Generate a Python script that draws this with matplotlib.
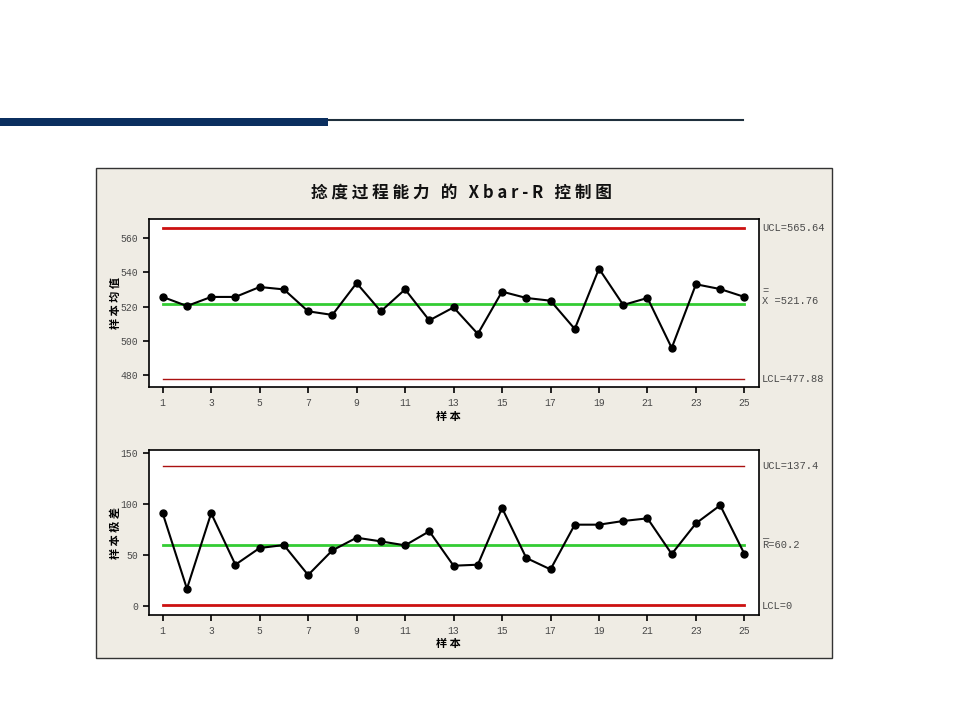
import numpy as np
import matplotlib
matplotlib.use("Agg")
from matplotlib import pyplot as plt
from matplotlib.patches import Rectangle
from matplotlib.lines import Line2D

# sample number and subgroup statistics
samples = np.arange(1, 26)
xbar = [525.6, 520.3, 525.6, 525.6, 531.4, 530.0, 517.2, 515.1, 533.7, 517.2,
        530.0, 511.9, 519.5, 504.0, 528.7, 525.0, 523.4, 506.9, 542.1, 520.9,
        525.0, 495.8, 533.0, 530.2, 525.6]
ranges = [91.1, 17.0, 91.1, 40.6, 57.0, 59.9, 30.5, 54.7, 67.1, 63.5,
          59.6, 73.4, 39.6, 40.6, 96.3, 47.2, 36.0, 79.9, 79.9, 83.5,
          86.1, 51.1, 81.2, 98.9, 51.1]

xbar_ucl, xbar_cl, xbar_lcl = 565.64, 521.76, 477.88
r_ucl, r_cl, r_lcl = 137.4, 60.2, 0

title = "捻 度 过 程 能 力   的   X b a r - R   控 制 图"
xlabel = "样 本"
ylabel_top = "样 本 均 值"
ylabel_bottom = "样 本 极 差"

cjk = ['Noto Sans CJK SC', 'DejaVu Sans']
mono = ['Liberation Mono', 'DejaVu Sans Mono']
txt_col = '#4a4a4a'

fig = plt.figure(figsize=(9.6, 7.2), dpi=100)

# header bars and grey panel (kept behind the axes)
fig.patches.append(Rectangle((0, 0.825), 0.3417, 0.0111, transform=fig.transFigure,
                             facecolor='#0b2f5f', edgecolor='none', zorder=-2))
fig.lines.append(Line2D([0.3417, 0.774], [0.8333, 0.8333], transform=fig.transFigure,
                        color='#1f2f3d', lw=1.5, zorder=-2))
fig.patches.append(Rectangle((0.1, 0.0861), 0.7667, 0.6806, transform=fig.transFigure,
                             facecolor='#efece4', edgecolor='#333333', lw=1, zorder=-2))

fig.text(0.481, 0.731, title, ha='center', va='center', fontsize=12,
         fontweight='bold', family=cjk, color='#111111')

ax1 = fig.add_axes([0.1552, 0.4625, 0.6354, 0.2333])
ax2 = fig.add_axes([0.1552, 0.1458, 0.6354, 0.2292])


def style(ax, ylab):
    ax.set_facecolor('white')
    for s in ax.spines.values():
        s.set_linewidth(1.2)
        s.set_color('black')
    ax.set_xlim(0.435, 25.6)
    ax.set_xticks(np.arange(1, 26, 2))
    ax.tick_params(direction='out', length=4, width=1.2, labelsize=7,
                   labelcolor=txt_col, pad=4)
    for lab in ax.get_xticklabels() + ax.get_yticklabels():
        lab.set_family(mono)
    ax.set_xlabel(xlabel, family=cjk, fontsize=8, fontweight='bold')
    ax.xaxis.set_label_coords(0.49, -0.135)
    ax.set_ylabel(ylab, family=cjk, fontsize=8, fontweight='bold')
    ax.yaxis.set_label_coords(-0.045, 0.5)


# Xbar chart
ax1.plot([1, 25], [xbar_ucl, xbar_ucl], color='#cc1111', lw=2)
ax1.plot([1, 25], [xbar_lcl, xbar_lcl], color='#aa1111', lw=1)
ax1.plot([1, 25], [xbar_cl, xbar_cl], color='#33cc33', lw=2)
ax1.plot(samples, xbar, color='black', lw=1.5, marker='o', markersize=5)
ax1.set_ylim(473, 571.1)
ax1.set_yticks([480, 500, 520, 540, 560])
style(ax1, ylabel_top)

tr1 = ax1.get_yaxis_transform()
ax1.text(1.005, xbar_ucl, "UCL=%.2f" % xbar_ucl, transform=tr1, va='center',
         fontsize=7.5, family=mono, color=txt_col)
ax1.annotate("X =%.2f" % xbar_cl, (1.005, xbar_cl), xycoords=tr1, xytext=(0, 2),
             textcoords='offset points', va='center', fontsize=7.5,
             family=mono, color=txt_col)
ax1.annotate("=", (1.005, xbar_cl), xycoords=tr1, xytext=(0, 9),
             textcoords='offset points', va='center', fontsize=7.5,
             family=mono, color=txt_col)
ax1.text(1.005, xbar_lcl, "LCL=%.2f" % xbar_lcl, transform=tr1, va='center',
         fontsize=7.5, family=mono, color=txt_col)

# R chart
ax2.plot([1, 25], [r_ucl, r_ucl], color='#aa1111', lw=1)
ax2.plot([1, 25], [r_lcl + 1.3, r_lcl + 1.3], color='#cc1111', lw=2)
ax2.plot([1, 25], [r_cl, r_cl], color='#33cc33', lw=2)
ax2.plot(samples, ranges, color='black', lw=1.5, marker='o', markersize=5)
ax2.set_ylim(-8.8, 153.2)
ax2.set_yticks([0, 50, 100, 150])
style(ax2, ylabel_bottom)

tr2 = ax2.get_yaxis_transform()
ax2.text(1.005, r_ucl, "UCL=%.1f" % r_ucl, transform=tr2, va='center',
         fontsize=7.5, family=mono, color=txt_col)
ax2.text(1.005, r_cl, "R=%.1f" % r_cl, transform=tr2, va='center',
         fontsize=7.5, family=mono, color=txt_col)
ax2.annotate("_", (1.005, r_cl), xycoords=tr2, xytext=(0, 7),
             textcoords='offset points', va='center', fontsize=7.5,
             family=mono, color=txt_col)
ax2.text(1.005, r_lcl, "LCL=%d" % r_lcl, transform=tr2, va='center',
         fontsize=7.5, family=mono, color=txt_col)

fig.savefig("out.png", dpi=100)
